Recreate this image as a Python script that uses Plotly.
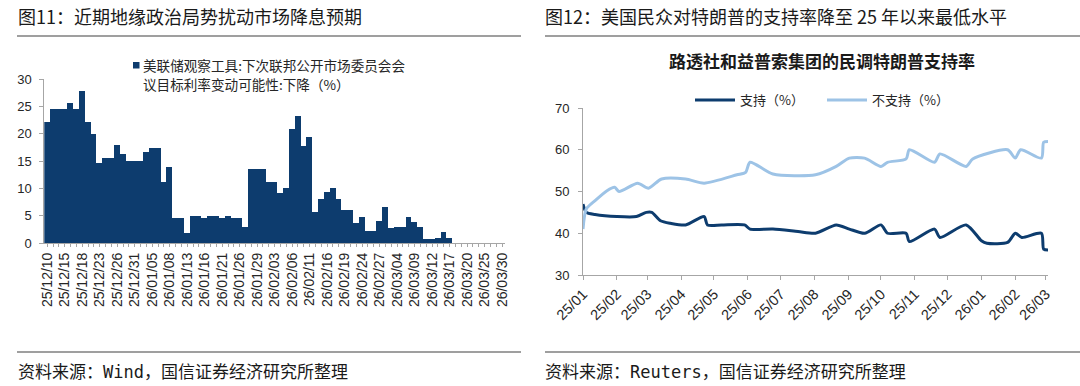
import plotly.graph_objects as go
import pandas as pd

# ---------------- data: left chart (FedWatch, probability of a cut, %) ----------------
day_categories = [d.strftime('%y/%m/%d') for d in pd.bdate_range('2025-12-10', '2026-03-30')]
tick_labels = ['25/12/10', '25/12/15', '25/12/18', '25/12/23', '25/12/26', '25/12/31',
               '26/01/05', '26/01/08', '26/01/13', '26/01/16', '26/01/21', '26/01/26',
               '26/01/29', '26/02/03', '26/02/06', '26/02/11', '26/02/16', '26/02/19',
               '26/02/24', '26/02/27', '26/03/04', '26/03/09', '26/03/12', '26/03/17',
               '26/03/20', '26/03/25', '26/03/30']
cut_prob = [22.2, 24.5, 24.5, 24.5, 25.7, 24.5, 27.8, 22.2, 20.0, 14.6,
            15.6, 15.6, 17.9, 16.2, 15.0, 15.0, 15.0, 16.7, 17.3, 17.3,
            11.2, 13.9, 4.5, 4.5, 1.8, 5.0, 5.0, 4.5, 5.0, 5.0,
            4.5, 5.0, 4.5, 4.5, 2.9, 13.6, 13.5, 13.5, 11.1, 11.1,
            9.2, 10.0, 20.9, 23.3, 17.8, 19.3, 5.7, 8.0, 9.3, 10.0,
            8.0, 6.1, 6.1, 3.65, 4.7, 2.25, 2.25, 4.1, 6.6, 2.7,
            2.9, 2.9, 4.8, 3.8, 2.9, 0.8, 0.8, 1.0, 2.0, 1.0]

# ---------------- data: right chart (Reuters/Ipsos, %) ----------------
approve_dates = ['2025-01-01', '2025-01-04', '2025-01-12', '2025-02-01', '2025-02-19', '2025-02-28',
                 '2025-03-05', '2025-03-13', '2025-03-22', '2025-04-05', '2025-04-22', '2025-04-25',
                 '2025-05-08', '2025-05-29', '2025-06-03', '2025-06-24', '2025-07-17', '2025-08-02',
                 '2025-08-21', '2025-09-02', '2025-09-16', '2025-10-01', '2025-10-07', '2025-10-24',
                 '2025-10-27', '2025-11-19', '2025-11-24', '2025-12-18', '2026-01-01', '2026-01-06',
                 '2026-01-25', '2026-02-01', '2026-02-07', '2026-02-25', '2026-02-27', '2026-03-03']
approve = [47, 45, 44.5, 44, 44, 45, 45, 43, 42.4, 42, 44, 42,
           42, 42, 41, 41, 40.4, 40, 42, 41, 40, 42, 40, 40,
           38, 41, 39, 42, 38.2, 37.6, 37.8, 40, 39, 40, 36.2, 36]
disapprove_dates = ['2025-01-01', '2025-01-04', '2025-01-12', '2025-01-23', '2025-01-30', '2025-02-03',
                    '2025-02-20', '2025-03-02', '2025-03-14', '2025-04-05', '2025-04-22', '2025-05-22',
                    '2025-05-30', '2025-06-03', '2025-06-24', '2025-08-02', '2025-08-21', '2025-09-02',
                    '2025-09-16', '2025-10-01', '2025-10-07', '2025-10-24', '2025-10-27', '2025-11-19',
                    '2025-11-24', '2025-12-18', '2025-12-24', '2026-01-25', '2026-02-01', '2026-02-06',
                    '2026-02-25', '2026-02-27', '2026-03-03']
disapprove = [41, 45.8, 47.8, 50.2, 51, 50, 52, 50.8, 53, 53, 52, 54,
              54.6, 57, 54.2, 54, 56, 58, 58, 56, 57, 57.8, 60, 57,
              59, 56, 57.8, 60, 58, 60, 58, 61.8, 62]

# ---------------- styling ----------------
W, H = 1080, 386
NAVY = '#0d3c6e'
LIGHT = '#9dc3e6'
AX = '#a6a6a6'
TXT = '#262626'
CJK = 'Noto Sans CJK SC'
LAT = 'Liberation Sans, Noto Sans CJK SC'


def px(x):
    return x / W


def py(y):
    return 1 - y / H


fig = go.Figure()
fig.add_trace(go.Bar(x=day_categories[:len(cut_prob)], y=cut_prob,
                     marker=dict(color=NAVY, line=dict(width=0)),
                     xaxis='x', yaxis='y', showlegend=False,
                     name='美联储观察工具:下次联邦公开市场委员会会议目标利率变动可能性:下降（%）'))
fig.add_trace(go.Scatter(x=approve_dates, y=approve, mode='lines', name='支持（%）',
                         line=dict(color=NAVY, width=3, shape='spline', smoothing=0.7),
                         xaxis='x2', yaxis='y2'))
fig.add_trace(go.Scatter(x=disapprove_dates, y=disapprove, mode='lines', name='不支持（%）',
                         line=dict(color=LIGHT, width=3, shape='spline', smoothing=0.7),
                         xaxis='x2', yaxis='y2'))

ticktext = [c if c in tick_labels else '' for c in day_categories]

axis_common = dict(showline=True, linecolor=AX, linewidth=1, ticks='outside', tickcolor=AX,
                   showgrid=False, zeroline=False, automargin=False,
                   tickfont=dict(size=13, color=TXT, family=LAT))

fig.update_layout(
    width=W, height=H,
    margin=dict(l=0, r=0, t=0, b=0, pad=0, autoexpand=False),
    paper_bgcolor='white', plot_bgcolor='white',
    font=dict(family=LAT, size=13, color=TXT),
    bargap=0,
    xaxis=dict(axis_common, type='category', categoryorder='array', categoryarray=day_categories,
               range=[-0.5, len(day_categories) - 0.5],
               domain=[px(44.3), px(505)], anchor='y',
               tickmode='array', tickvals=day_categories, ticktext=ticktext,
               tickangle=-90, ticklen=3, tickfont=dict(size=14, color=TXT, family=LAT)),
    yaxis=dict(axis_common, range=[0, 30], dtick=5, domain=[py(243), py(79)], anchor='x', ticklen=4,
               ticklabelstandoff=5),
    xaxis2=dict(axis_common, type='date', range=['2025-01-01', '2026-03-03'],
                domain=[px(583), px(1048)], anchor='y2',
                dtick='M1', tick0='2025-01-01', tickformat='%y/%m', tickangle=-45, ticklen=4,
                tickfont=dict(size=14.5, color=TXT, family=LAT)),
    yaxis2=dict(axis_common, range=[30, 70], dtick=10, domain=[py(275), py(108)], anchor='x2',
                ticklen=4, ticklabelstandoff=6),
    legend=dict(orientation='h', x=px(690), y=py(100), xanchor='left', yanchor='middle',
                bgcolor='rgba(0,0,0,0)', font=dict(size=13, family=CJK, color=TXT),
                itemwidth=40, entrywidth=77, entrywidthmode='pixels'),
)

rule = dict(type='line', xref='paper', yref='paper', line=dict(color='#7f7f7f', width=1.5))
shapes = [
    dict(rule, x0=px(17), x1=px(521), y0=py(36), y1=py(36)),
    dict(rule, x0=px(545), x1=px(1080), y0=py(36), y1=py(36)),
    dict(rule, x0=px(17), x1=px(521), y0=py(352), y1=py(352)),
    dict(rule, x0=px(545), x1=px(1080), y0=py(352), y1=py(352)),
    dict(type='rect', xref='paper', yref='paper', x0=px(133), x1=px(139.5), y0=py(68.5), y1=py(62),
         fillcolor=NAVY, line=dict(width=0)),
]
fig.update_layout(shapes=shapes)


def note(text, x, y, size, family=CJK, xanchor='left', color=TXT):
    return dict(text=text, x=px(x), y=py(y), xref='paper', yref='paper', showarrow=False,
                xanchor=xanchor, yanchor='middle', align='left',
                font=dict(size=size, family=family, color=color))


annotations = [
    note('图11：近期地缘政治局势扰动市场降息预期', 16, 16, 18, color='#1a1a1a'),
    note('图12：美国民众对特朗普的支持率降至 25 年以来最低水平', 543, 16, 18, color='#1a1a1a'),
    note('资料来源：Wind，国信证券经济研究所整理', 16, 372, 17,
         family='DejaVu Sans Mono, Noto Sans CJK SC', color='#1a1a1a'),
    note('资料来源：Reuters，国信证券经济研究所整理', 543, 372, 17,
         family='DejaVu Sans Mono, Noto Sans CJK SC', color='#1a1a1a'),
    note('美联储观察工具:下次联邦公开市场委员会会', 141, 65.5, 13.6),
    note('议目标利率变动可能性:下降（%）', 141, 84, 13.6),
    note('<b>路透社和益普索集团的民调特朗普支持率</b>', 822, 60, 17, xanchor='center', color='#1a1a1a'),
]
fig.update_layout(annotations=annotations)

fig.write_html('out.html', config={'displayModeBar': False},
               post_script="document.body.style.margin='0';")
